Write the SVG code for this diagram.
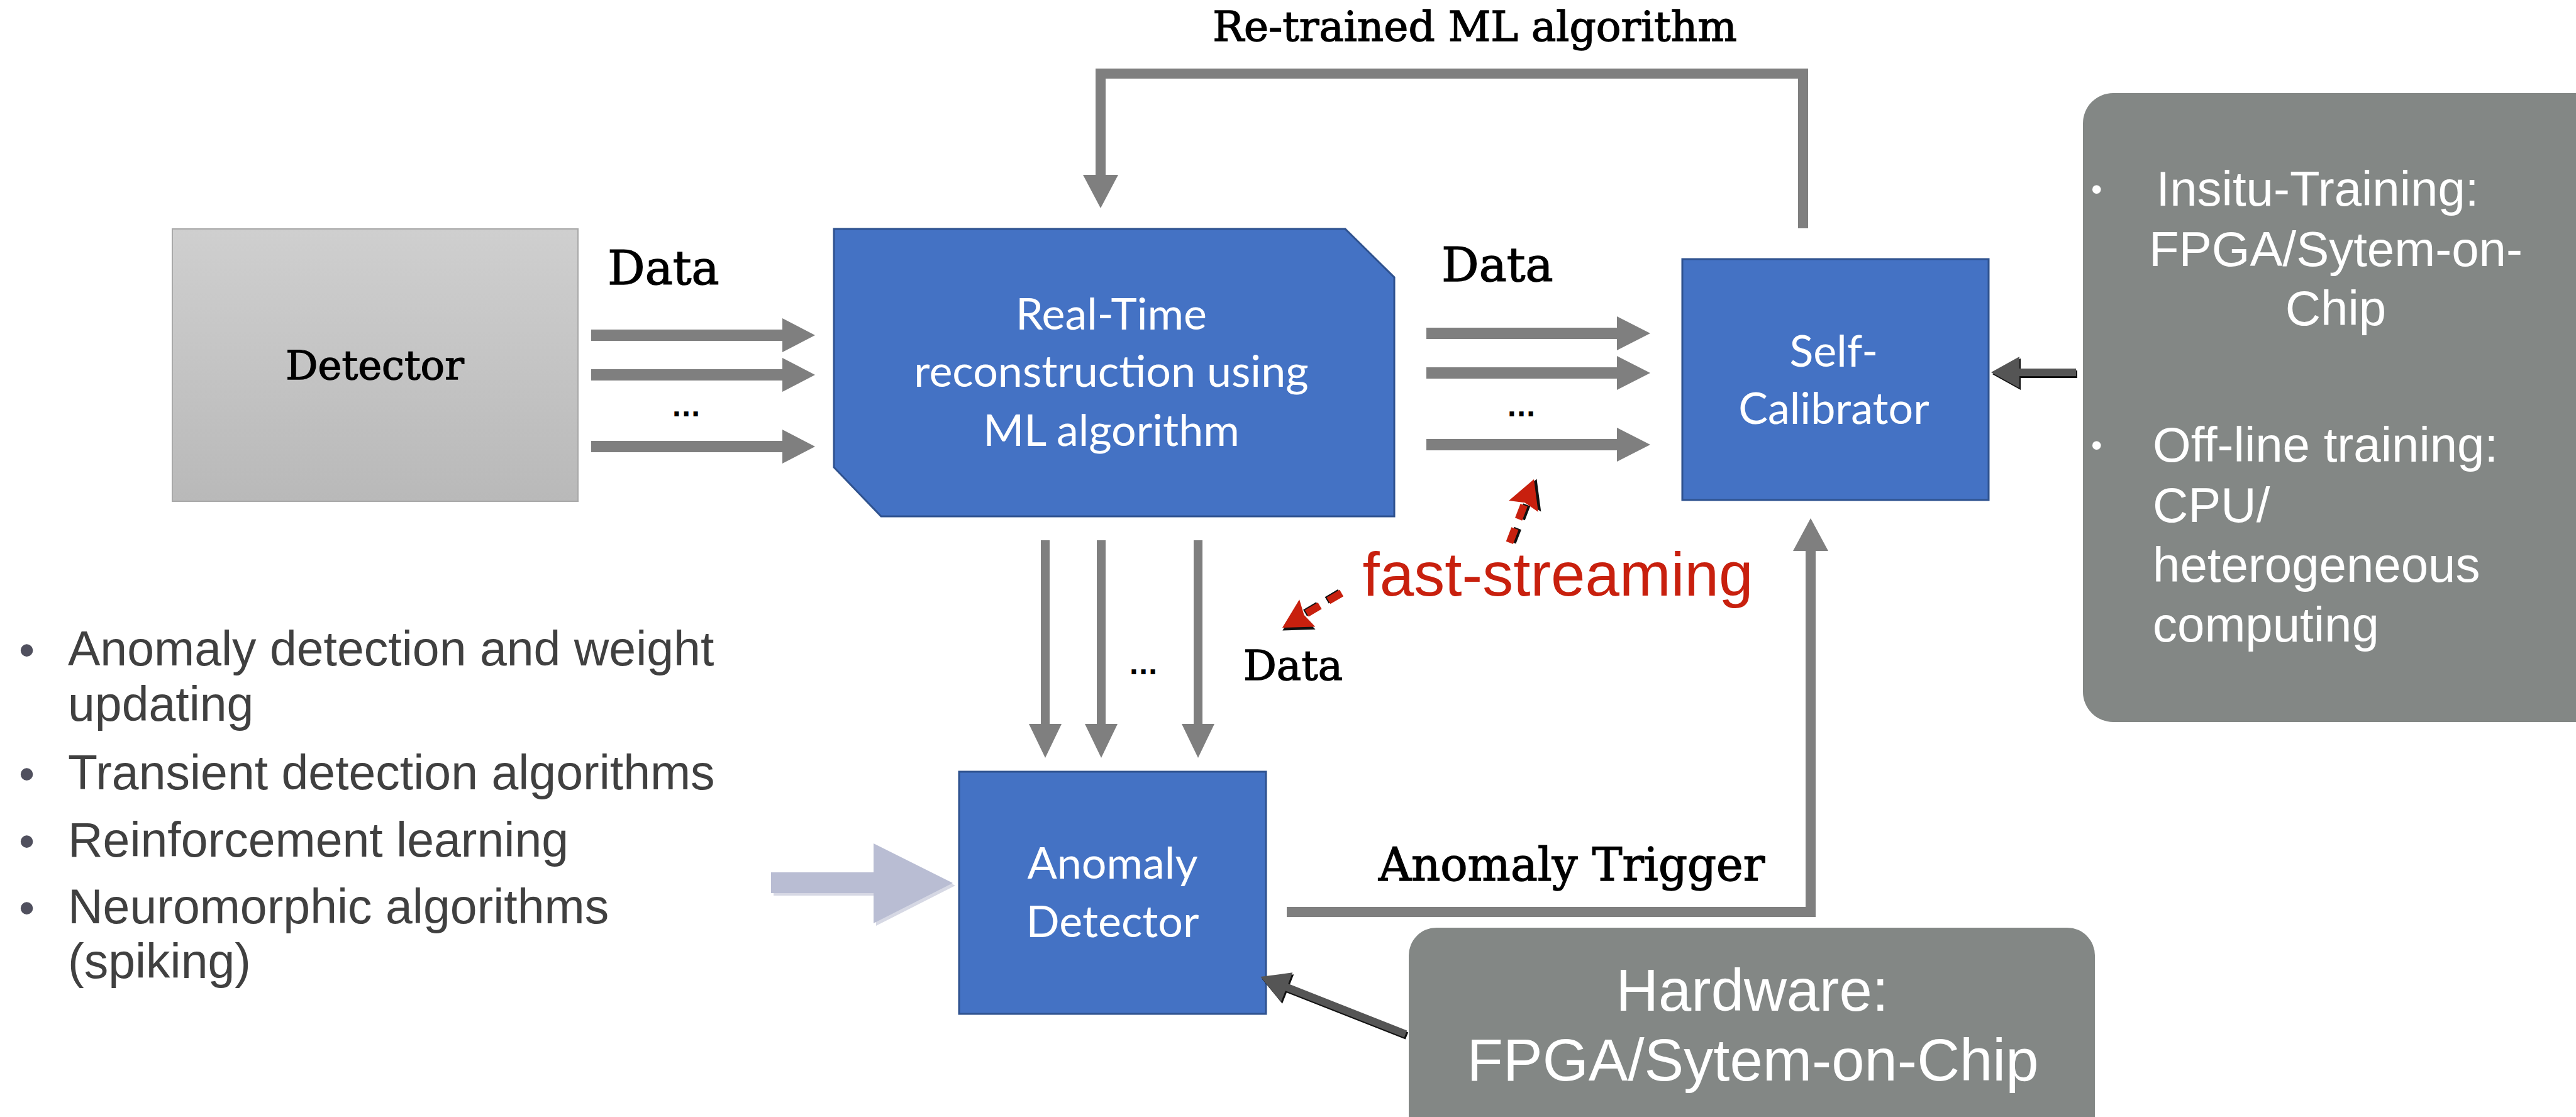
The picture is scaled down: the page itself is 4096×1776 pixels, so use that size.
<svg xmlns="http://www.w3.org/2000/svg" width="4096" height="1776" viewBox="0 0 4096 1776">
<defs>
<linearGradient id="detGrad" x1="0" y1="0" x2="0" y2="1">
<stop offset="0" stop-color="#cfcfcf"/>
<stop offset="1" stop-color="#b9b9b9"/>
</linearGradient>
<style>
.tw{font-family:"DejaVu Serif","Liberation Serif",serif;fill:#000;stroke:#000;stroke-width:1.4}
.blue{fill:#4472c4;stroke:#2f528f;stroke-width:3}
.bt{font-family:Lato,"Open Sans",sans-serif;fill:#fff;font-size:70px;text-anchor:middle}
.panel{fill:#838785}
.pt{font-family:"Liberation Sans",Arial,sans-serif;fill:#fff}
.lt{font-family:"Liberation Sans",Arial,sans-serif;fill:#404040;font-size:77px}
.bul{font-family:"Liberation Sans",Arial,sans-serif;fill:#50505e;font-size:72px}
.garrow{fill:#7f7f7f}
.gline{fill:none;stroke:#7f7f7f;stroke-width:16;stroke-linejoin:miter}
.dots{font-family:"DejaVu Sans",sans-serif;font-weight:bold;font-size:40px;text-anchor:middle;fill:#000}
.red{fill:#c8200e}
.redline{stroke:#c8200e;stroke-width:12;stroke-dasharray:24 16;fill:none}
.redshadow{stroke:#111;stroke-width:12;stroke-dasharray:24 16;fill:none}
</style>
</defs>
<rect width="4096" height="1776" fill="#fff"/>

<g id="detector">
<rect x="274" y="364" width="645" height="433" fill="url(#detGrad)" stroke="#a8a8a8" stroke-width="2"/>
<text class="tw" x="596" y="603" font-size="64" text-anchor="middle">Detector</text>
</g>

<g id="realtime">
<polygon class="blue" points="1326,364 2139,364 2217,441 2217,821 1401,821 1326,743"/>
<text class="bt" x="1767" y="524">Real-Time</text>
<text class="bt" x="1767" y="615">reconstruction using</text>
<text class="bt" x="1767" y="709">ML algorithm</text>
</g>

<g id="selfcalibrator">
<rect class="blue" x="2675" y="412" width="487" height="383"/>
<text class="bt" x="2916" y="583">Self-</text>
<text class="bt" x="2916" y="674">Calibrator</text>
</g>

<g id="anomalydetector">
<rect class="blue" x="1525" y="1227" width="488" height="385"/>
<text class="bt" x="1769" y="1397">Anomaly</text>
<text class="bt" x="1769" y="1490">Detector</text>
</g>

<g id="training-panel">
<rect class="panel" x="3312" y="148" width="830" height="1000" rx="48" ry="48"/>
<text class="pt" x="3325" y="318" font-size="50">•</text>
<text class="pt" x="3685" y="327" font-size="78" text-anchor="middle">Insitu-Training:</text>
<text class="pt" x="3714" y="423" font-size="78" text-anchor="middle">FPGA/Sytem-on-</text>
<text class="pt" x="3714" y="517" font-size="78" text-anchor="middle">Chip</text>
<text class="pt" x="3325" y="725" font-size="50">•</text>
<text class="pt" x="3423" y="734" font-size="78">Off-line training:</text>
<text class="pt" x="3423" y="830" font-size="78">CPU/</text>
<text class="pt" x="3423" y="925" font-size="78">heterogeneous</text>
<text class="pt" x="3423" y="1020" font-size="78">computing</text>
</g>

<g id="hardware-panel">
<rect class="panel" x="2240" y="1475" width="1091" height="360" rx="44" ry="44"/>
<text class="pt" x="2786" y="1607" font-size="94" text-anchor="middle">Hardware:</text>
<text class="pt" x="2787" y="1718" font-size="94" text-anchor="middle">FPGA/Sytem-on-Chip</text>
</g>

<g id="algorithms-list">
<text class="bul" x="30" y="1058">•</text>
<text class="lt" x="108" y="1058">Anomaly detection and weight</text>
<text class="lt" x="108" y="1146">updating</text>
<text class="bul" x="30" y="1255">•</text>
<text class="lt" x="108" y="1255">Transient detection algorithms</text>
<text class="bul" x="30" y="1362">•</text>
<text class="lt" x="108" y="1362">Reinforcement learning</text>
<text class="bul" x="30" y="1468">•</text>
<text class="lt" x="108" y="1468">Neuromorphic algorithms</text>
<text class="lt" x="108" y="1555">(spiking)</text>
</g>

<g id="connectors">
<!-- Detector to Real-Time -->
<polygon class="garrow" points="940,524 1244,524 1244,506 1296,533 1244,560 1244,542 940,542"/>
<polygon class="garrow" points="940,587 1244,587 1244,569 1296,596 1244,623 1244,605 940,605"/>
<polygon class="garrow" points="940,701 1244,701 1244,683 1296,710 1244,737 1244,719 940,719"/>
<!-- Real-Time to Self-Calibrator -->
<polygon class="garrow" points="2268,521 2571,521 2571,503 2624,530 2571,557 2571,539 2268,539"/>
<polygon class="garrow" points="2268,584 2571,584 2571,566 2624,593 2571,620 2571,602 2268,602"/>
<polygon class="garrow" points="2268,698 2571,698 2571,680 2624,707 2571,734 2571,716 2268,716"/>
<!-- Real-Time down to Anomaly Detector -->
<polygon class="garrow" points="1655,859 1669,859 1669,1151 1688,1151 1662,1205 1636,1151 1655,1151"/>
<polygon class="garrow" points="1744,859 1758,859 1758,1151 1777,1151 1751,1205 1725,1151 1744,1151"/>
<polygon class="garrow" points="1898,859 1912,859 1912,1151 1931,1151 1905,1205 1879,1151 1898,1151"/>
<!-- Feedback loop -->
<polyline class="gline" points="2867,363 2867,117 1750,117 1750,280"/>
<polygon class="garrow" points="1722,278 1778,278 1750,331"/>
<!-- Anomaly trigger -->
<polyline class="gline" points="2046,1450 2879,1450 2879,874" stroke-width="15"/>
<polygon class="garrow" points="2851,876 2907,876 2879,824"/>
<!-- Light input arrow -->
<polygon points="1230,1391 1393,1391 1393,1345 1519,1408 1393,1472 1393,1424 1230,1424" fill="#d6d8e4"/>
<polygon points="1226,1387 1389,1387 1389,1341 1515,1404 1389,1468 1389,1420 1226,1420" fill="#b9bdd3"/>
<!-- Panel to Self-Calibrator -->
<polygon points="3303,589 3213,589 3213,570 3168,595 3213,620 3213,601 3303,601" fill="#111"/>
<polygon points="3301,586 3211,586 3211,567 3166,592 3211,617 3211,598 3301,598" fill="#555"/>
<!-- Hardware to Anomaly Detector -->
<g transform="translate(2237,1647) rotate(201.5)">
<polygon points="0,-6 203,-6 203,-25 248,0 203,25 203,6 0,6" fill="#111"/>
</g>
<g transform="translate(2235,1644) rotate(201.5)">
<polygon points="0,-6 203,-6 203,-25 248,0 203,25 203,6 0,6" fill="#555"/>
</g>
<!-- fast-streaming dashed arrows -->
<g transform="translate(2439,762) rotate(-69)">
<line class="redshadow" x1="-108" y1="3" x2="-36" y2="3" transform="translate(2,1)"/>
<line class="redline" x1="-108" y1="0" x2="-36" y2="0"/>
<polygon points="2,4 -44,-21 -38,4 -44,29" fill="#111"/>
<polygon class="red" points="0,0 -46,-25 -40,0 -46,25"/>
</g>
<g transform="translate(2039,998) rotate(149.7)">
<line class="redshadow" x1="-109" y1="3" x2="-36" y2="3" transform="translate(2,-1)"/>
<line class="redline" x1="-109" y1="0" x2="-36" y2="0"/>
<polygon points="2,-4 -44,-29 -38,-4 -44,21" fill="#111"/>
<polygon class="red" points="0,0 -46,-25 -40,0 -46,25"/>
</g>
</g>

<g id="labels">
<text class="tw" x="2345" y="65" font-size="66" text-anchor="middle">Re-trained ML algorithm</text>
<text class="tw" x="1055" y="452" font-size="74" text-anchor="middle">Data</text>
<text class="tw" x="2381" y="447" font-size="74" text-anchor="middle">Data</text>
<text class="tw" x="2056" y="1081" font-size="66" text-anchor="middle">Data</text>
<text class="tw" x="2499" y="1400" font-size="72" text-anchor="middle">Anomaly Trigger</text>
<text class="dots" x="1091" y="662">...</text>
<text class="dots" x="2419" y="662">...</text>
<text class="dots" x="1818" y="1072">...</text>
<text x="2477" y="947" font-family="'Liberation Sans',Arial,sans-serif" font-size="98" fill="#c8200e" text-anchor="middle">fast-streaming</text>
</g>
</svg>
